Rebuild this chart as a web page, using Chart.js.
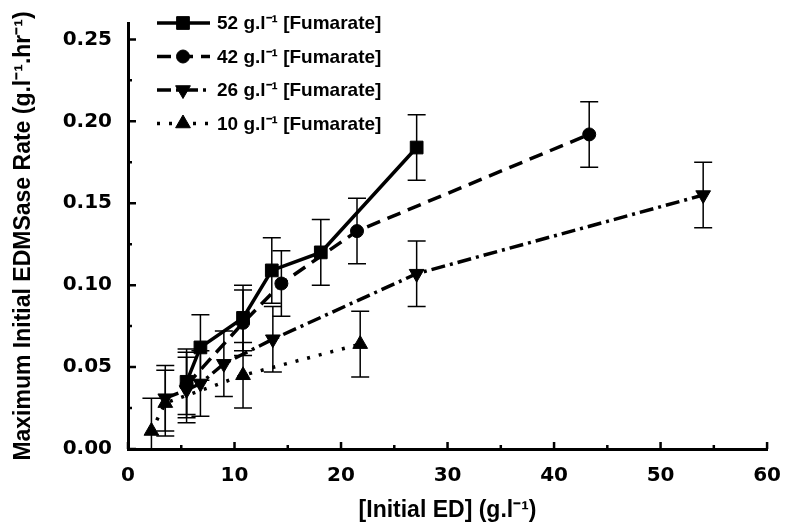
<!DOCTYPE html>
<html>
<head>
<meta charset="utf-8">
<script src="https://cdn.jsdelivr.net/npm/chart.js@4.4.0/dist/chart.umd.min.js"></script>
<style>
html, body { margin: 0; padding: 0; background: #fff; }
</style>
</head>
<body>
<canvas id="myChart" width="788" height="527"></canvas>
<script>
// [Initial ED] (g/l) and max initial rate, error = +/- SD
const x52 = [5.5, 6.8, 10.8, 13.5, 18.1, 27.1];
const y52 = [0.041, 0.062, 0.080, 0.109, 0.120, 0.184];
const e52 = [0.02, 0.02, 0.02, 0.02, 0.02, 0.02];

const x42 = [5.5, 10.8, 14.4, 21.5, 43.3];
const y42 = [0.039, 0.077, 0.101, 0.133, 0.192];
const e42 = [0.02, 0.02, 0.02, 0.02, 0.02];

const x26 = [3.5, 5.5, 6.8, 9.0, 13.6, 27.1, 54.0];
const y26 = [0.031, 0.036, 0.040, 0.052, 0.067, 0.107, 0.155];
const e26 = [0.02, 0.02, 0.02, 0.02, 0.02, 0.02, 0.02];

const x10 = [2.2, 3.5, 10.8, 21.8];
const y10 = [0.011, 0.028, 0.045, 0.064];
const e10 = [0.02, 0.02, 0.02, 0.02];

const labels = ['52 g.l\u207B\u00B9 [Fumarate]', '42 g.l\u207B\u00B9 [Fumarate]', '26 g.l\u207B\u00B9 [Fumarate]', '10 g.l\u207B\u00B9 [Fumarate]'];
const xTicks = [0, 10, 20, 30, 40, 50, 60];
const yTicks = [0, 0.05, 0.10, 0.15, 0.20, 0.25];

function pts(xs, ys) {
    return xs.map((x, i) => ({x: x, y: ys[i]}));
}

function series(label, xs, ys, errs, style, dash, radius, rot) {
    return {
        label: label,
        data: pts(xs, ys),
        errors: errs,
        borderColor: '#000',
        backgroundColor: '#000',
        borderWidth: 3.5,
        borderDash: dash,
        pointStyle: style,
        pointRadius: radius,
        pointHoverRadius: radius,
        pointRotation: rot,
        pointBorderWidth: 1,
        showLine: true,
        tension: 0
    };
}

const errorBars = {
    id: 'errorBars',
    beforeDatasetsDraw(chart) {
        const ctx = chart.ctx;
        const xs = chart.scales.x, ys = chart.scales.y;
        const a = chart.chartArea;
        ctx.save();
        ctx.beginPath();
        ctx.rect(a.left, a.top - 5, a.right - a.left, a.bottom - a.top + 5);
        ctx.clip();
        ctx.strokeStyle = '#000';
        ctx.lineWidth = 1.5;
        ctx.setLineDash([]);
        chart.data.datasets.forEach(ds => {
            ds.data.forEach((p, i) => {
                const e = ds.errors[i];
                const px = xs.getPixelForValue(p.x);
                const t = ys.getPixelForValue(p.y + e);
                const b = ys.getPixelForValue(p.y - e);
                ctx.beginPath();
                ctx.moveTo(px, t); ctx.lineTo(px, b);
                ctx.moveTo(px - 9, t); ctx.lineTo(px + 9, t);
                ctx.moveTo(px - 9, b); ctx.lineTo(px + 9, b);
                ctx.stroke();
            });
        });
        ctx.restore();
    }
};

// inward tick marks, major + minor
const innerTicks = {
    id: 'innerTicks',
    afterDraw(chart) {
        const ctx = chart.ctx;
        const xs = chart.scales.x, ys = chart.scales.y;
        const a = chart.chartArea;
        ctx.save();
        ctx.strokeStyle = '#000';
        ctx.lineWidth = 2.5;
        ctx.beginPath();
        for (let v = 0; v <= 60.001; v += 5) {
            const px = xs.getPixelForValue(v);
            const len = (Math.round(v) % 10 == 0) ? 7 : 4;
            ctx.moveTo(px, a.bottom); ctx.lineTo(px, a.bottom - len);
        }
        for (let k = 0; k <= 10; k++) {
            const py = ys.getPixelForValue(k * 0.025);
            const len = (k % 2 == 0) ? 8 : 4;
            ctx.moveTo(a.left, py); ctx.lineTo(a.left + len, py);
        }
        ctx.stroke();
        ctx.restore();
    }
};

const legendBox = {
    id: 'legendBox',
    afterDraw(chart) {
        const ctx = chart.ctx;
        ctx.save();
        chart.data.datasets.forEach((ds, i) => {
            const y = 23 + i * 33.5;
            ctx.strokeStyle = '#000';
            ctx.lineWidth = 3.5;
            ctx.setLineDash(ds.borderDash);
            ctx.beginPath();
            ctx.moveTo(157, y); ctx.lineTo(210, y);
            ctx.stroke();
            ctx.setLineDash([]);
            ctx.fillStyle = '#000';
            ctx.lineWidth = 1;
            Chart.helpers.drawPoint(ctx, {
                pointStyle: ds.pointStyle,
                rotation: ds.pointRotation,
                radius: ds.pointRadius,
                borderWidth: 1
            }, 183, y);
            ctx.font = 'bold 19px "Liberation Sans", Arial, sans-serif';
            ctx.textBaseline = 'middle';
            ctx.textAlign = 'left';
            ctx.fillText(ds.label, 217, y + 1);
        });
        ctx.restore();
    }
};

const ctx1 = document.getElementById('myChart').getContext('2d');
const tickFont = {family: '"DejaVu Sans", sans-serif', size: 20, weight: 'bold'};
const titleFont = {family: '"Liberation Sans Narrow", "Liberation Sans", Arial, sans-serif', size: 23, weight: 'bold'};

const myChart = new Chart(ctx1, {
    type: 'scatter',
    data: {
        datasets: [
            series(labels[0], x52, y52, e52, 'rect', [], 9, 0),
            series(labels[1], x42, y42, e42, 'circle', [14, 8], 6.5, 0),
            series(labels[2], x26, y26, e26, 'triangle', [14, 5, 3, 5], 8.5, 180),
            series(labels[3], x10, y10, e10, 'triangle', [3, 9], 8.5, 0)
        ]
    },
    options: {
        responsive: false,
        animation: false,
        layout: {padding: {top: 23, right: 17, left: 0, bottom: 0}},
        plugins: {
            legend: {display: false},
            tooltip: {enabled: false}
        },
        scales: {
            x: {
                type: 'linear',
                min: 0,
                max: 60,
                afterFit: s => { s.height = 78; },
                afterBuildTicks: s => { s.ticks = xTicks.map(v => ({value: v})); },
                grid: {display: false},
                border: {display: true, color: '#000', width: 3},
                ticks: {color: '#000', font: tickFont, padding: 7, maxRotation: 0,
                        callback: v => v.toString()},
                title: {display: true, text: '[Initial ED] (g.l\u207B\u00B9)', color: '#000',
                        font: titleFont, padding: {bottom: 3}}
            },
            y: {
                type: 'linear',
                min: 0,
                max: 0.26,
                afterFit: s => { s.width = 128; },
                afterBuildTicks: s => { s.ticks = yTicks.map(v => ({value: v})); },
                grid: {display: false},
                border: {display: true, color: '#000', width: 3},
                ticks: {color: '#000', font: tickFont, padding: 8,
                        callback: v => v.toFixed(2)},
                title: {display: true, text: 'Maximum Initial EDMSase Rate (g.l\u207B\u00B9.hr\u207B\u00B9)',
                        color: '#000', font: titleFont, padding: {top: 10}}
            }
        }
    },
    plugins: [errorBars, innerTicks, legendBox]
});
</script>
</body>
</html>
